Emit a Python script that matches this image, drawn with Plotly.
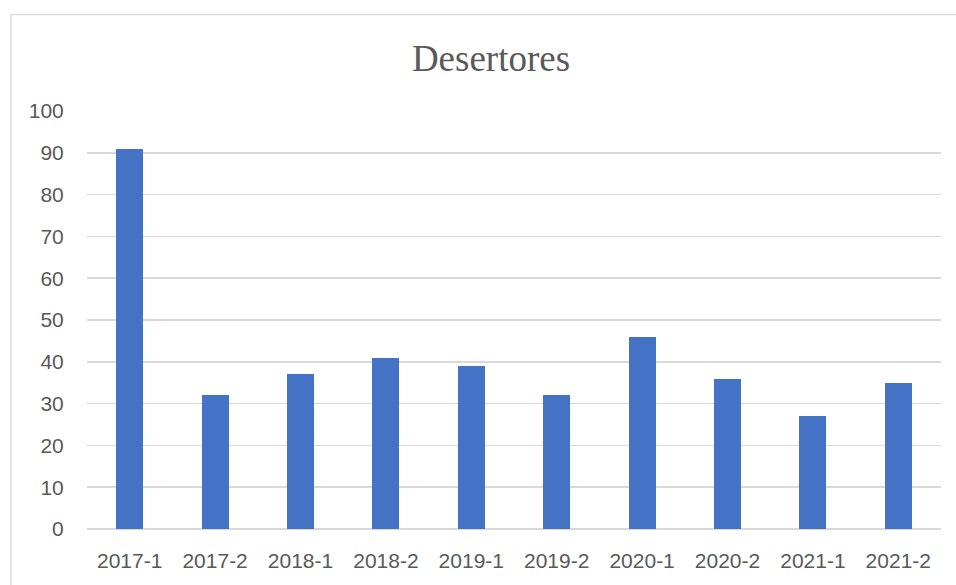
import plotly.graph_objects as go

categories = ["2017-1", "2017-2", "2018-1", "2018-2", "2019-1",
              "2019-2", "2020-1", "2020-2", "2021-1", "2021-2"]
values = [91, 32, 37, 41, 39, 32, 46, 36, 27, 35]
y_ticks = list(range(0, 101, 10))

W, H = 956, 585
L, R, T, B = 87, 15, 111, 56
pw = W - L - R
ph = H - T - B

def px_x(x):
    return (x - L) / pw

def px_y(y):
    return (H - B - y) / ph

fig = go.Figure(go.Bar(
    x=categories, y=values,
    marker=dict(color="#4472C4", line=dict(width=0)),
    width=0.316,
))

fig.update_layout(
    width=W, height=H,
    margin=dict(l=L, r=R, t=T, b=B),
    paper_bgcolor="white", plot_bgcolor="white",
    showlegend=False,
    title=dict(text="Desertores", x=px_x(491), xref="paper", xanchor="center",
               y=1 - 58 / H, yref="container", yanchor="middle",
               font=dict(family="Liberation Serif", size=37, color="#595959")),
    font=dict(family="Liberation Sans", size=21, color="#595959"),
    bargap=0,
    shapes=[dict(type="rect", xref="paper", yref="paper",
                 x0=px_x(11), x1=px_x(975), y0=px_y(600), y1=px_y(14.5),
                 line=dict(color="#d9d9d9", width=1.5), fillcolor="rgba(0,0,0,0)",
                 layer="below")],
)

fig.update_xaxes(
    type="category", showgrid=False, showline=False, zeroline=False,
    ticks="outside", ticklen=13, tickcolor="rgba(0,0,0,0)",
    tickfont=dict(family="Liberation Sans", size=21, color="#595959"),
)
fig.update_yaxes(
    range=[0, 100], tickvals=y_ticks, showgrid=True, gridcolor="#d9d9d9", gridwidth=1.5,
    zeroline=True, zerolinecolor="#d9d9d9", zerolinewidth=1.5, showline=False,
    ticks="outside", ticklen=18, tickcolor="rgba(0,0,0,0)",
    tickfont=dict(family="Liberation Sans", size=21, color="#595959"),
)

fig.write_html("out.html",
               config={"displayModeBar": False, "staticPlot": True},
               post_script="document.body.style.margin='0';document.body.style.overflow='hidden';")
